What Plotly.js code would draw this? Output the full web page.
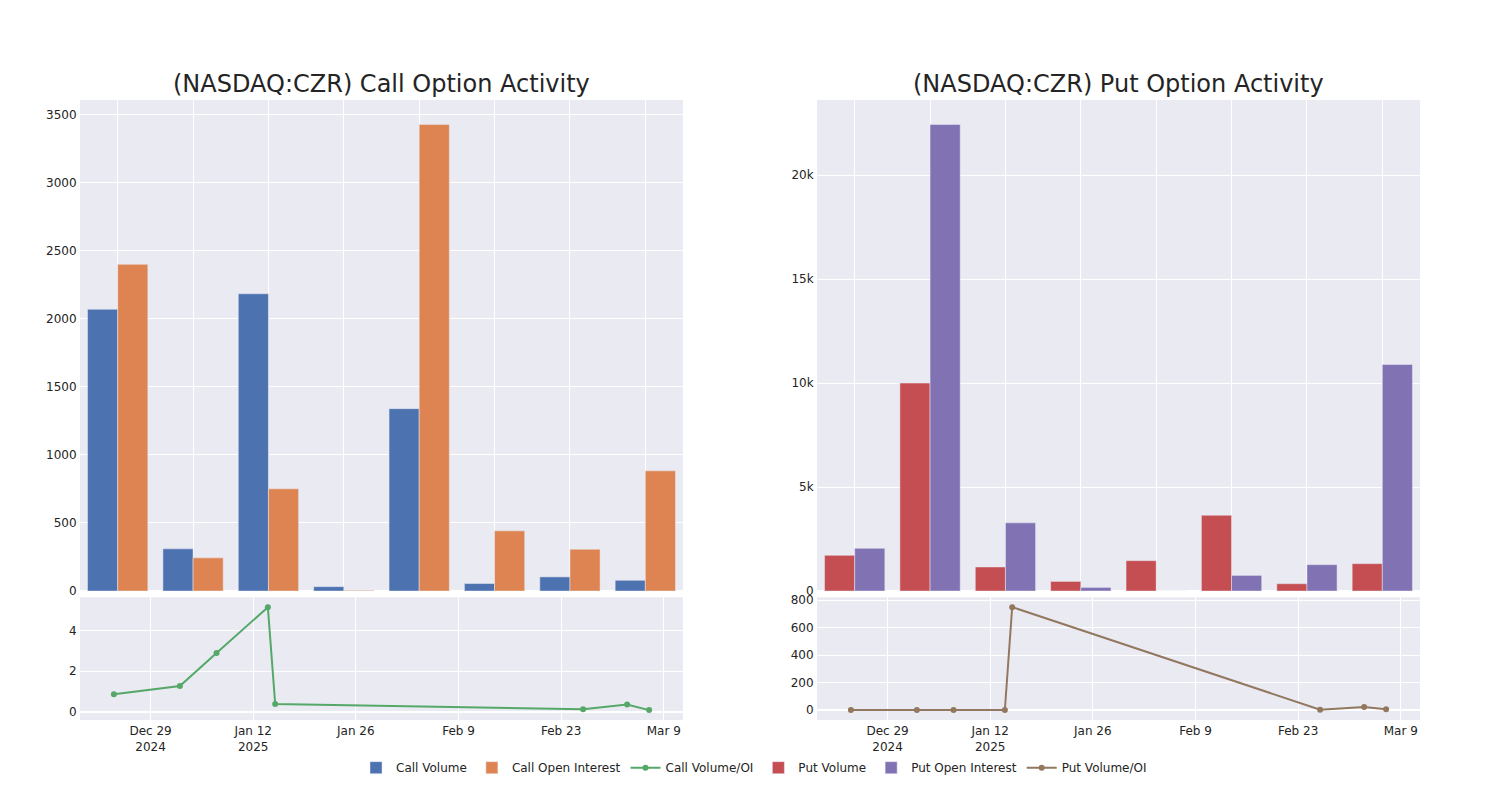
<!DOCTYPE html>
<html>
<head>
<meta charset="utf-8">
<script src="https://cdn.plot.ly/plotly-3.0.1.min.js"></script>
<style>html,body{margin:0;padding:0;background:#fff;}#chart{width:1500px;height:800px;}</style>
</head>
<body>
<div id="chart"></div>
<script>
// ---- data ----
const dates = ['2024-12-24', '2025-01-02', '2025-01-07', '2025-01-14', '2025-01-15', '2025-02-26', '2025-03-04', '2025-03-07'];
const callVolume = [2070, 310, 2184, 32, 1340, 55, 104, 79];
const callOpenInterest = [2400, 244, 751, 5, 3427, 442, 307, 883];
const callVolOI = [0.86, 1.27, 2.9, 5.17, 0.38, 0.12, 0.36, 0.08];
const putVolume = [1716, 10000, 1157, 463, 1460, 3644, 352, 1316];
const putOpenInterest = [2053, 22430, 3278, 174, 0, 752, 1268, 10893];
const putVolOI = [0, 0, 0, 0, 750, 3, 22, 7];

const C = {
  blue: 'rgb(76,114,176)', orange: 'rgb(221,132,82)', green: 'rgb(85,168,104)',
  red: 'rgb(196,78,82)', purple: 'rgb(129,114,179)', brown: 'rgb(147,120,96)'
};
const barLine = {color: 'rgb(234,234,242)', width: 0.5};

const traces = [
  {type: 'bar', x: dates, y: callVolume, name: 'Call Volume', marker: {color: C.blue, line: barLine}, xaxis: 'x', yaxis: 'y'},
  {type: 'bar', x: dates, y: callOpenInterest, name: 'Call Open Interest', marker: {color: C.orange, line: barLine}, xaxis: 'x', yaxis: 'y'},
  {type: 'scatter', mode: 'lines+markers', x: dates, y: callVolOI, name: 'Call Volume/OI', line: {color: C.green, width: 2}, marker: {color: C.green, size: 6}, xaxis: 'x3', yaxis: 'y3'},
  {type: 'bar', x: dates, y: putVolume, name: 'Put Volume', marker: {color: C.red, line: barLine}, xaxis: 'x2', yaxis: 'y2'},
  {type: 'bar', x: dates, y: putOpenInterest, name: 'Put Open Interest', marker: {color: C.purple, line: barLine}, xaxis: 'x2', yaxis: 'y2'},
  {type: 'scatter', mode: 'lines+markers', x: dates, y: putVolOI, name: 'Put Volume/OI', line: {color: C.brown, width: 2}, marker: {color: C.brown, size: 6}, xaxis: 'x4', yaxis: 'y4'}
];

const baseAxis = {
  showgrid: true, gridcolor: 'white', gridwidth: 1, linecolor: 'white', zerolinecolor: 'white',
  zerolinewidth: 2, ticks: '', tickfont: {size: 12}
};
const catAxis = Object.assign({}, baseAxis, {type: 'category', showticklabels: false});
const dateAxis = Object.assign({}, baseAxis, {type: 'date'});

const layout = {
  width: 1500, height: 800,
  font: {family: 'DejaVu Sans, sans-serif', size: 12, color: 'rgb(36,36,36)'},
  paper_bgcolor: 'white', plot_bgcolor: 'rgb(234,234,242)',
  margin: {l: 80, r: 80, t: 100, b: 80},
  barmode: 'group', bargap: 0.2, bargroupgap: 0,
  showlegend: true,
  legend: {orientation: 'h', x: 0.503, xanchor: 'center', y: -0.0535, yanchor: 'top', font: {size: 12}},
  xaxis: Object.assign({}, catAxis, {domain: [0, 0.45], anchor: 'y'}),
  yaxis: Object.assign({}, baseAxis, {domain: [0.208, 1], anchor: 'x'}),
  xaxis2: Object.assign({}, catAxis, {domain: [0.55, 1], anchor: 'y2'}),
  yaxis2: Object.assign({}, baseAxis, {domain: [0.208, 1], anchor: 'x2'}),
  xaxis3: Object.assign({}, dateAxis, {domain: [0, 0.45], anchor: 'y3'}),
  yaxis3: Object.assign({}, baseAxis, {domain: [0, 0.198], anchor: 'x3'}),
  xaxis4: Object.assign({}, dateAxis, {domain: [0.55, 1], anchor: 'y4'}),
  yaxis4: Object.assign({}, baseAxis, {domain: [0, 0.198], anchor: 'x4'}),
  annotations: [
    {text: '(NASDAQ:CZR) Call Option Activity', xref: 'paper', yref: 'paper', x: 0.225, y: 1, xanchor: 'center', yanchor: 'bottom', showarrow: false, font: {size: 24}},
    {text: '(NASDAQ:CZR) Put Option Activity', xref: 'paper', yref: 'paper', x: 0.775, y: 1, xanchor: 'center', yanchor: 'bottom', showarrow: false, font: {size: 24}}
  ]
};

Plotly.newPlot('chart', traces, layout, {displayModeBar: false, responsive: false});
</script>
</body>
</html>
